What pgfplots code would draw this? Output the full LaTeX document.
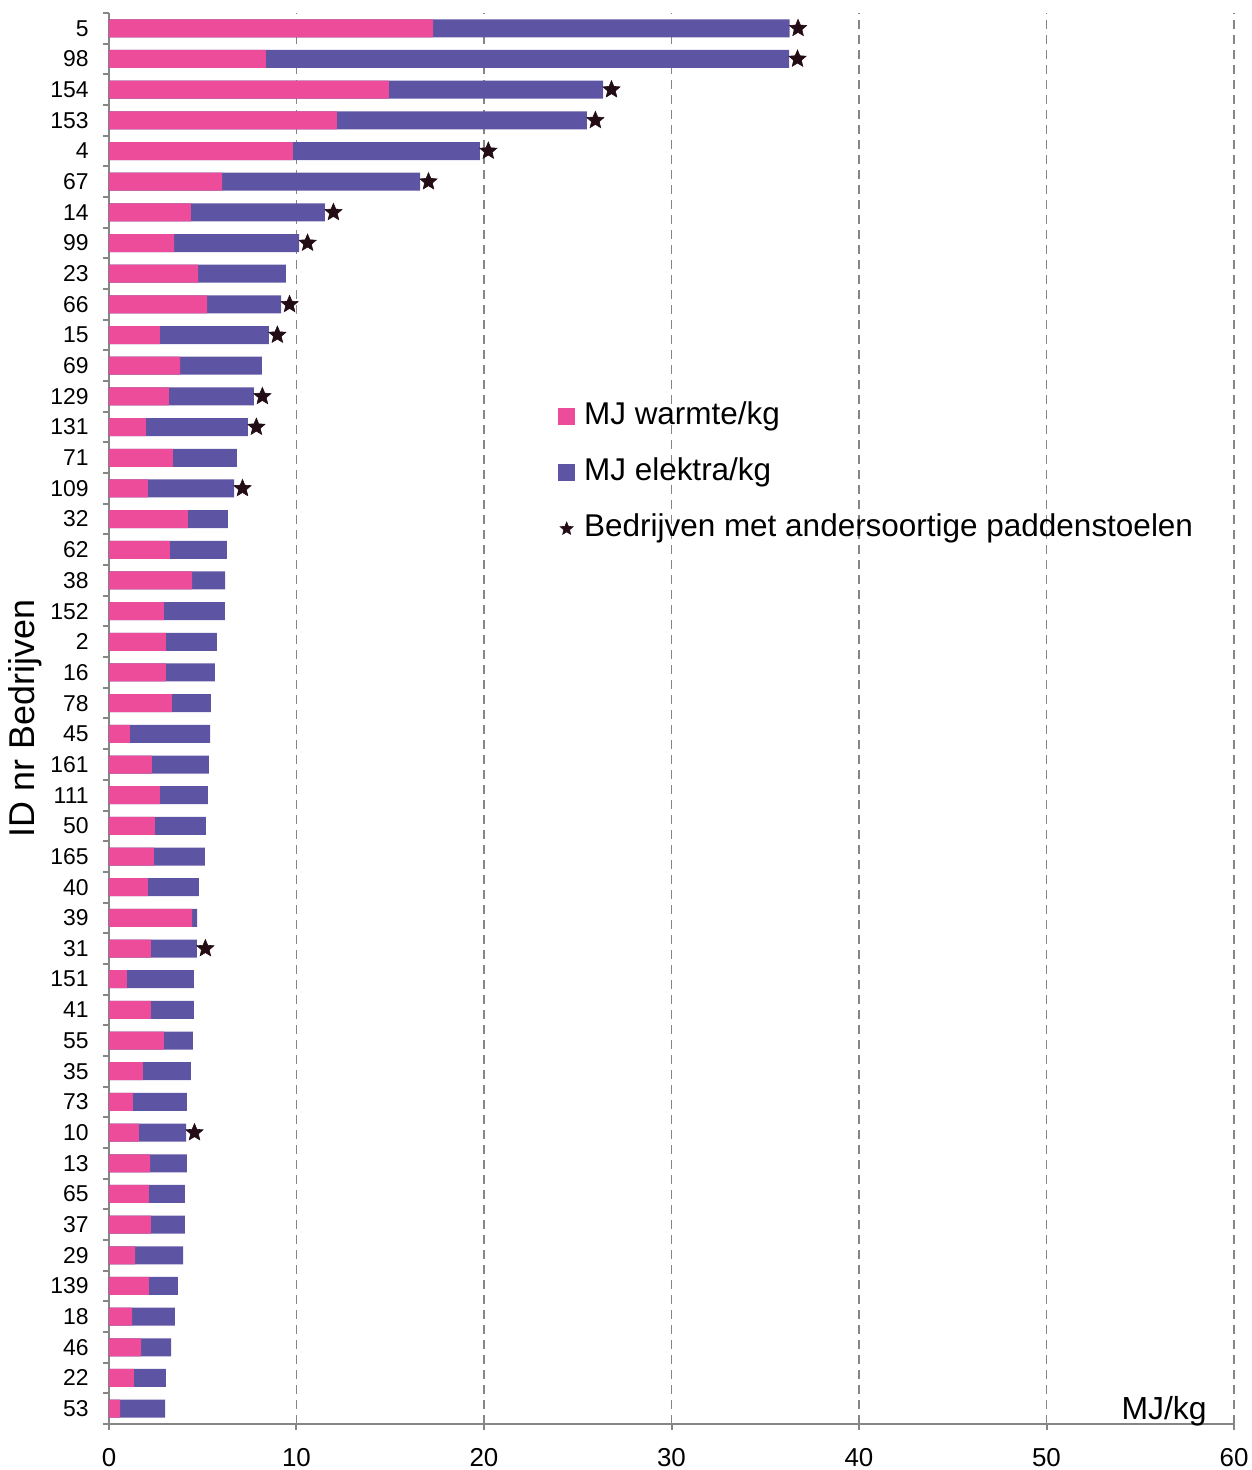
\documentclass[border=0pt]{standalone}
\usepackage{fontspec}
\setmainfont{Liberation Sans}
\usepackage{pgfplots}
\pgfplotsset{compat=1.18}
\definecolor{warmc}{RGB}{236,76,154}
\definecolor{elekc}{RGB}{94,84,164}
\definecolor{starc}{RGB}{35,12,22}
\definecolor{axgray}{RGB}{134,134,134}
\pgfdeclareplotmark{fstar}{%
  \pgfpathmoveto{\pgfpointpolar{90}{\pgfplotmarksize}}%
  \pgfpathlineto{\pgfpointpolar{126}{0.45\pgfplotmarksize}}%
  \pgfpathlineto{\pgfpointpolar{162}{\pgfplotmarksize}}%
  \pgfpathlineto{\pgfpointpolar{198}{0.45\pgfplotmarksize}}%
  \pgfpathlineto{\pgfpointpolar{234}{\pgfplotmarksize}}%
  \pgfpathlineto{\pgfpointpolar{270}{0.45\pgfplotmarksize}}%
  \pgfpathlineto{\pgfpointpolar{306}{\pgfplotmarksize}}%
  \pgfpathlineto{\pgfpointpolar{342}{0.45\pgfplotmarksize}}%
  \pgfpathlineto{\pgfpointpolar{18}{\pgfplotmarksize}}%
  \pgfpathlineto{\pgfpointpolar{54}{0.45\pgfplotmarksize}}%
  \pgfpathclose
  \pgfusepathqfillstroke
}
\pgfplotstableread{
y warm total
45 17.28 36.30
44 8.37 36.27
43 14.93 26.35
42 12.16 25.49
41 9.81 19.78
40 6.03 16.59
39 4.37 11.52
38 3.47 10.14
37 4.75 9.44
36 5.23 9.18
35 2.72 8.53
34 3.79 8.16
33 3.20 7.73
32 1.97 7.41
31 3.41 6.82
30 2.08 6.67
29 4.21 6.34
28 3.25 6.29
27 4.43 6.19
26 2.93 6.18
25 3.04 5.76
24 3.04 5.65
23 3.36 5.44
22 1.12 5.39
21 2.29 5.33
20 2.72 5.28
19 2.45 5.17
18 2.40 5.12
17 2.08 4.80
16 4.43 4.70
15 2.24 4.69
14 0.96 4.53
13 2.24 4.53
12 2.93 4.48
11 1.81 4.37
10 1.28 4.16
9 1.60 4.11
8 2.19 4.16
7 2.13 4.05
6 2.24 4.05
5 1.39 3.95
4 2.13 3.68
3 1.23 3.52
2 1.71 3.31
1 1.33 3.04
0 0.59 2.99
}\bars
\pgfplotstableread{
y x
45 36.75
44 36.72
43 26.80
42 25.94
41 20.23
40 17.04
39 11.97
38 10.59
36 9.63
35 8.98
33 8.18
32 7.86
30 7.12
15 5.14
9 4.56
}\stars
\begin{document}
\begin{tikzpicture}
\begin{axis}[
  scale only axis, width=562.5bp, height=705.5bp,
  xmin=0, xmax=60, ymin=-0.5, ymax=45.5,
  axis x line*=bottom, axis y line*=left,
  axis line style={axgray, line width=1bp},
  /pgf/number format/assume math mode=true,
  xtick={0,10,...,60},
  ytick={0,...,45},
  yticklabels={53,22,46,18,139,29,37,65,13,10,73,35,55,41,151,31,39,40,165,50,111,161,45,78,16,2,152,38,62,32,109,71,131,129,69,15,66,23,99,14,67,4,153,154,98,5},
  minor ytick={-0.5,0.5,...,45.5},
  tick align=outside,
  major tick length=3bp, minor tick length=3bp,
  tick style={axgray, line width=1bp},
  major y tick style={opacity=0},
  xmajorgrids,
  major grid style={axgray, line width=0.6bp, dash pattern=on 4.5bp off 3bp},
  xticklabel style={font=\fontsize{13}{15}\selectfont, yshift=-5.5bp},
  yticklabel style={font=\fontsize{11.5}{13}\selectfont, xshift=-3.7bp},
  ylabel={ID nr Bedrijven},
  ylabel style={at={(axis description cs:0,0.5)}, anchor=center, yshift=42bp, font=\fontsize{18}{20}\selectfont},
  xlabel={MJ/kg},
  xlabel style={at={(axis description cs:1,0)}, anchor=base east, xshift=-13.5bp, yshift=2.5bp, inner sep=0pt, font=\fontsize{16}{18}\selectfont},
  legend style={at={(0.399,0.724)}, anchor=north west, draw=none, fill=none,
    font=\fontsize{15.8}{18}\selectfont, row sep=14bp, column sep=4.5bp, inner sep=0pt,
    nodes={inner sep=0pt, text height=11bp, text depth=3bp}},
  legend cell align=left,
]
\addlegendimage{legend image code/.code={\fill[warmc] (0bp,-4bp) rectangle (8bp,4bp);}}
\addlegendentry{MJ warmte/kg}
\addlegendimage{legend image code/.code={\fill[elekc] (0bp,-4bp) rectangle (8bp,4bp);}}
\addlegendentry{MJ elektra/kg}
\addplot[xbar, bar width=9bp, bar shift=0pt, fill=elekc, draw=none, forget plot] table[x=total, y=y] {\bars};
\addplot[xbar, bar width=9bp, bar shift=0pt, fill=warmc, draw=none, forget plot] table[x=warm, y=y] {\bars};
\addplot[only marks, mark=fstar, mark size=4.5bp, mark options={fill=starc, draw=starc, line width=0.3bp},
  legend image code/.code={\path[draw=none, fill=none] (0bp,0bp) rectangle (8bp,0bp); \draw[mark=fstar, mark size=3.4bp, fill=starc, draw=starc, line width=0.3bp] plot coordinates {(4bp,0bp)};}]
  table[x=x, y=y] {\stars};
\addlegendentry{Bedrijven met andersoortige paddenstoelen}
\coordinate (SW) at (axis description cs:0,0);
\coordinate (NE) at (axis description cs:1,1);
\end{axis}
\pgfresetboundingbox
\path[use as bounding box] ([shift={(-54.5bp,-23bp)}]SW) rectangle ([shift={(9bp,6.5bp)}]NE);
\end{tikzpicture}
\end{document}
